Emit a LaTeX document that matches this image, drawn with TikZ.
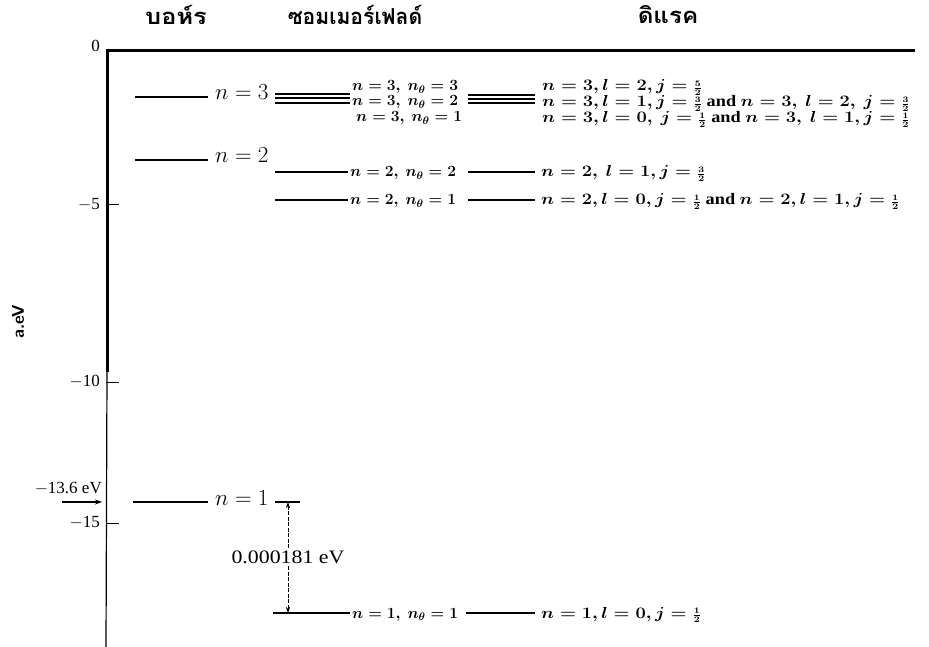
\RequirePackage{fix-cm}
\documentclass[tikz,border=0pt]{standalone}
\usepackage{fontspec}
\setmainfont{Liberation Serif}
\newfontfamily\thaifont[Script=Thai]{Loma}
\usetikzlibrary{arrows.meta}
\newcommand\hsx[1]{\scalebox{1.14}[1]{#1}}
\newcommand\fr[2]{\mbox{\scalebox{1.05}{$\scriptstyle\frac{#1}{#2}$}}}
\begin{document}
\begin{tikzpicture}[x=1pt,y=-1pt,
  axis/.style={line width=3pt},
  thinaxis/.style={line width=1.2pt},
  tick/.style={line width=1pt},
  lvl/.style={line width=1.4pt},
  big/.style={anchor=base west, inner sep=0pt, font=\fontsize{23}{25}\selectfont},
  lab/.style={anchor=base west, inner sep=0pt, font=\fontsize{15.6}{17}\selectfont\boldmath\bfseries},
  dlab/.style={anchor=base west, inner sep=0pt, font=\fontsize{16}{17}\selectfont\boldmath\bfseries},
  ticklab/.style={anchor=east, inner sep=1pt, font=\fontsize{17}{18}\selectfont},
  head/.style={font=\thaifont\bfseries\fontsize{22}{24}\selectfont, inner sep=0pt},
  dim/.style={line width=0.6pt, dash pattern=on 4pt off 1.5pt, {Stealth[length=6pt,width=4pt]}-{Stealth[length=6pt,width=4pt]}}]
\useasboundingbox (0,0) rectangle (929,647);

% headers
\node[head] (hb) at (176,15) {\scalebox{1.15}[1]{บอห์ร}};
\node[head] (hs) at (355,15) {\scalebox{0.96}[1]{ซอมเมอร์เฟลด์}};
\node[head] (hd) at (668,15) {\scalebox{1.1}[1]{ดิแรค}};

% axes
\coordinate (o) at (107,51);
\coordinate (xe) at (915,51);
\coordinate (vm) at (107,372);
\coordinate (vb) at (106,647);
\draw[axis] (xe) -- (o) -- (vm);
\draw[thinaxis] (vm) -- (vb);

% ticks
\coordinate (t5) at (107,205);  \coordinate (t5e) at (119,205);
\coordinate (t10) at (106,382); \coordinate (t10e) at (119,382);
\coordinate (t15) at (106,523); \coordinate (t15e) at (119,523);
\draw[tick] (t5) -- (t5e);
\draw[tick] (t10) -- (t10e);
\draw[tick] (t15) -- (t15e);
\node[ticklab] (l0) at (101,46) {0};
\node[ticklab] (l5) at (101,205) {$-$5};
\node[ticklab] (l10) at (101,382) {$-$10};
\node[ticklab] (l15) at (101,523) {$-$15};
\node[ticklab] (l136) at (103,489) {$-$13.6 eV};
\coordinate (ar1) at (62,502);
\coordinate (ar2) at (102,502);
\draw[line width=1.2pt, -{Stealth[length=7pt,width=5pt]}] (ar1) -- (ar2);
\node[rotate=90, font=\fontsize{17}{18}\selectfont\sffamily\bfseries] (ylab) at (18,322) {a.eV};

% Bohr levels
\coordinate (b3a) at (135,97);  \coordinate (b3b) at (208,97);
\coordinate (b2a) at (135,160); \coordinate (b2b) at (208,160);
\coordinate (b1a) at (133,502); \coordinate (b1b) at (208,502);
\draw[lvl] (b3a) -- (b3b);
\draw[lvl] (b2a) -- (b2b);
\draw[lvl] (b1a) -- (b1b);
\node[big] (nb3) at (215,100) {$n = 3$};
\node[big] (nb2) at (215,163) {$n = 2$};
\node[big] (nb1) at (215,505) {$n = 1$};

% Sommerfeld levels
\coordinate (s33a) at (275,94);  \coordinate (s33b) at (350,94);
\coordinate (s32a) at (275,98);  \coordinate (s32b) at (350,98);
\coordinate (s31a) at (275,103); \coordinate (s31b) at (350,103);
\coordinate (s22a) at (275,172); \coordinate (s22b) at (348,172);
\coordinate (s21a) at (275,200); \coordinate (s21b) at (348,200);
\coordinate (s11a) at (273,613); \coordinate (s11b) at (350,613);
\draw[lvl] (s33a) -- (s33b);
\draw[lvl] (s32a) -- (s32b);
\draw[lvl] (s31a) -- (s31b);
\draw[lvl] (s22a) -- (s22b);
\draw[lvl] (s21a) -- (s21b);
\draw[lvl] (s11a) -- (s11b);
\node[lab] (ns33) at (352,91) {$n=3,\ n_\theta=3$};
\node[lab] (ns32) at (352,106) {$n=3,\ n_\theta=2$};
\node[lab] (ns31) at (356,122) {$n=3,\ n_\theta=1$};
\node[lab] (ns22) at (350,177) {$n=2,\ n_\theta=2$};
\node[lab] (ns21) at (350,205) {$n=2,\ n_\theta=1$};
\node[lab] (ns11) at (352,618) {$n=1,\ n_\theta=1$};

% splitting dimension
\coordinate (dl) at (275,502);
\coordinate (dref) at (300,502);
\draw[lvl] (dl) -- (dref);
\coordinate (dtop) at (288,502);
\coordinate (dbot) at (288,613);
\draw[dim] (dtop) -- node[fill=white, inner sep=2pt, font=\fontsize{19}{21}\selectfont] (dval) {\scalebox{1.15}[1]{0.000181 eV}} (dbot);

% Dirac levels
\coordinate (d3aa) at (468,95);  \coordinate (d3ab) at (535,95);
\coordinate (d3ba) at (468,99);  \coordinate (d3bb) at (535,99);
\coordinate (d3ca) at (468,103); \coordinate (d3cb) at (535,103);
\coordinate (d22a) at (468,172); \coordinate (d22b) at (535,172);
\coordinate (d21a) at (468,200); \coordinate (d21b) at (535,200);
\coordinate (d11a) at (466,613); \coordinate (d11b) at (535,613);
\draw[lvl] (d3aa) -- (d3ab);
\draw[lvl] (d3ba) -- (d3bb);
\draw[lvl] (d3ca) -- (d3cb);
\draw[lvl] (d22a) -- (d22b);
\draw[lvl] (d21a) -- (d21b);
\draw[lvl] (d11a) -- (d11b);
\node[dlab] (nd3a) at (542,91) {\hsx{$n=3, l=2, j=\fr{5}{2}$}};
\node[dlab] (nd3b) at (542,107) {\hsx{$n=3, l=1, j=\fr{3}{2}$ and $n=3,\ l=2,\ j=\fr{3}{2}$}};
\node[dlab] (nd3c) at (542,123) {\hsx{$n=3, l=0,\ j=\fr{1}{2}$ and $n=3,\ l=1, j=\fr{1}{2}$}};
\node[dlab] (nd22) at (541,177) {\hsx{$n=2,\ l=1, j=\fr{3}{2}$}};
\node[dlab] (nd21) at (541,205) {\hsx{$n=2, l=0, j=\fr{1}{2}$ and $n=2, l=1, j=\fr{1}{2}$}};
\node[dlab] (nd11) at (541,618) {\hsx{$n=1, l=0, j=\fr{1}{2}$}};
\end{tikzpicture}
\end{document}
